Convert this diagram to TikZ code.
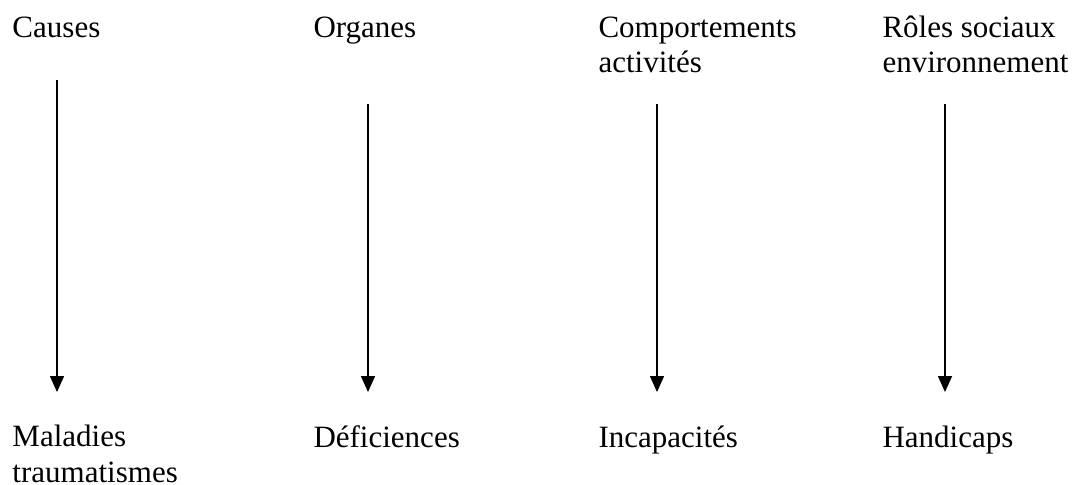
\documentclass[tikz,border=0pt]{standalone}
\usepackage{fontspec}
\setmainfont{Liberation Serif}
\usetikzlibrary{arrows.meta}

\begin{document}
\begin{tikzpicture}[x=0.4pt, y=-0.4pt, >={Triangle[length=6.4pt, width=5.6pt]},
    term/.style={anchor=base west, inner sep=0pt, align=left,
                 font=\fontsize{12.4pt}{14.2pt}\selectfont},
    link/.style={->, line width=0.6pt}]
    \useasboundingbox (0,0) rectangle (1083,485);

    %define the upper terms (base = last line)
    \node[term] (causes)  at (12,38)  {Causes};
    \node[term] (organes) at (313,38) {Organes};
    \node[term] (comport) at (598,73) {Comportements\\activités};
    \node[term] (roles)   at (882,73) {Rôles sociaux\\environnement};

    %define the lower terms
    \node[term] (maladies) at (12,482)  {Maladies\\traumatismes};
    \node[term] (deficien) at (313,447) {Déficiences};
    \node[term] (incapac)  at (598,447) {Incapacités};
    \node[term] (handicap) at (882,447) {Handicaps};

    %define the ends of the arrows
    \coordinate (causes top)   at (57,80);
    \coordinate (causes end)   at (57,392);
    \coordinate (organes top)  at (368,104);
    \coordinate (organes end)  at (368,392);
    \coordinate (comport top)  at (657,104);
    \coordinate (comport end)  at (657,392);
    \coordinate (roles top)    at (945,104);
    \coordinate (roles end)    at (945,392);

    %define the links
    \path[link] (causes top)  edge (causes end)
                (organes top) edge (organes end)
                (comport top) edge (comport end)
                (roles top)   edge (roles end);
\end{tikzpicture}
\end{document}
